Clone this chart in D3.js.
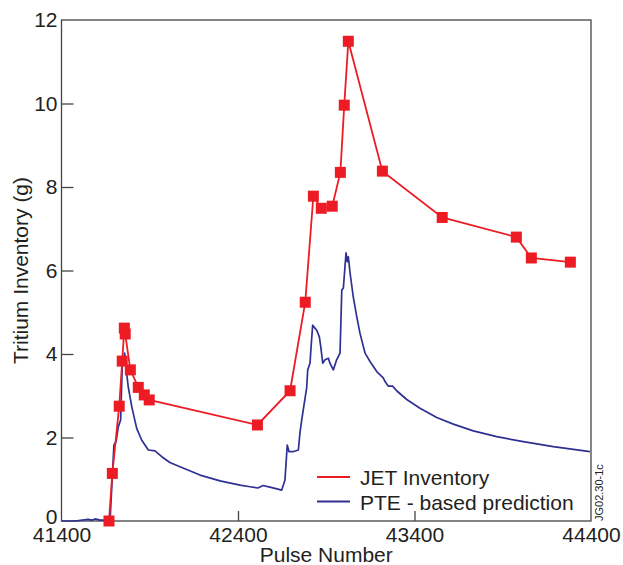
<!DOCTYPE html>
<html>
<head>
<meta charset="utf-8">
<script src="https://cdn.jsdelivr.net/npm/d3@7"></script>
<style>
  body { margin: 0; background: #fff; }
  svg text { font-family: "Liberation Sans", Arial, sans-serif; fill: #231f20; }
</style>
</head>
<body>
<script>
// JET measured tritium inventory (pulse number, grams)
const jetPulse = [41669, 41688, 41727, 41744, 41756, 41761, 41790, 41835, 41869, 41897,
    42510, 42695, 42781, 42827, 42872, 42934, 42980, 43002, 43025, 43218, 43557, 43977, 44062, 44283];
const jetInventory = [0.0, 1.14, 2.75, 3.83, 4.62, 4.48, 3.62, 3.20, 3.02, 2.90,
    2.30, 3.12, 5.24, 7.78, 7.49, 7.54, 8.35, 9.96, 11.49, 8.38, 7.27, 6.80, 6.30, 6.20];

// PTE based prediction
const ptePulse = [41403, 41476, 41550, 41573, 41590, 41618, 41652, 41675, 41690, 41697,
    41709, 41722, 41735, 41744, 41758, 41765, 41778, 41798, 41826, 41854,
    41892, 41930, 41968, 42014, 42071, 42185, 42298, 42411, 42468, 42513,
    42542, 42581, 42648, 42666, 42679, 42689, 42711, 42742, 42751, 42761,
    42789, 42795, 42808, 42814, 42823, 42836, 42846, 42861, 42869, 42880,
    42893, 42912, 42921, 42940, 42959, 42978, 42988, 42997, 43012, 43019,
    43025, 43035, 43053, 43073, 43091, 43120, 43148, 43186, 43223, 43233,
    43252, 43276, 43299, 43356, 43431, 43526, 43620, 43733, 43866, 44016,
    44186, 44394];
const pteInventory = [0.0, 0.0, 0.04, 0.02, 0.05, 0.02, 0.02, 0.02, 1.22, 1.82,
    1.90, 2.26, 2.42, 3.70, 4.02, 3.70, 3.22, 2.74, 2.22, 1.94,
    1.70, 1.68, 1.54, 1.40, 1.30, 1.10, 0.96, 0.86, 0.82, 0.79,
    0.85, 0.81, 0.74, 0.98, 1.82, 1.66, 1.66, 1.70, 2.11, 2.42,
    3.19, 3.62, 3.78, 4.17, 4.69, 4.62, 4.57, 4.41, 4.17, 3.78,
    3.86, 3.90, 3.78, 3.62, 3.86, 4.02, 5.53, 5.58, 6.42, 6.21,
    6.33, 5.94, 5.37, 4.89, 4.50, 4.02, 3.82, 3.58, 3.43, 3.34,
    3.23, 3.23, 3.12, 2.91, 2.70, 2.48, 2.32, 2.16, 2.02, 1.90,
    1.78, 1.66];

const xTicks = [41400, 42400, 43400, 44400];
const yTicks = [0, 2, 4, 6, 8, 10, 12];

const RED = "#ed1c24";
const BLUE = "#2e3192";
const AXIS = "#444";

const W = 623, H = 565;
const margin = { top: 20, right: 32, bottom: 44, left: 61.5 };

const svg = d3.select("body").append("svg")
    .attr("width", W)
    .attr("height", H);

let x = d3.scaleLinear().domain([41400, 44400]).range([margin.left, W - margin.right]);
let y = d3.scaleLinear().domain([0, 12]).range([H - margin.bottom, margin.top]);

// frame
svg.append("rect")
    .attr("x", x(41400))
    .attr("y", y(12))
    .attr("width", x(44400) - x(41400))
    .attr("height", y(0) - y(12))
    .attr("fill", "none")
    .attr("stroke", AXIS)
    .attr("stroke-width", 1.3);

// axes with inward ticks
let xAxis = d3.axisBottom(x).tickValues(xTicks).tickFormat(d3.format("d"))
    .tickSizeInner(-10).tickSizeOuter(0).tickPadding(6);
let yAxis = d3.axisLeft(y).tickValues(yTicks).tickFormat(d3.format("d"))
    .tickSizeInner(-12).tickSizeOuter(0).tickPadding(4);

let gx = svg.append("g")
    .attr("transform", "translate(0," + y(0) + ")")
    .call(xAxis);
let gy = svg.append("g")
    .attr("transform", "translate(" + x(41400) + ",0)")
    .call(yAxis);

[gx, gy].forEach(function (g) {
    g.select(".domain").remove();
    g.selectAll("line").attr("stroke", AXIS).attr("stroke-width", 1.3);
    g.selectAll("text")
        .attr("font-family", "Liberation Sans, Arial, sans-serif")
        .attr("font-size", 21)
        .attr("fill", "#231f20");
});
gx.selectAll(".tick text").attr("dy", "0.72em");
// the zero label sits a little above the corner
gy.selectAll(".tick text").filter(d => d == 0).attr("dy", "0.1em");
// ticks at 0 and 12 sit on the frame
gy.selectAll(".tick line").filter(d => d == 0 || d == 12).remove();
gx.selectAll(".tick line").filter(d => d == 41400 || d == 44400).remove();

// axis titles
svg.append("text")
    .attr("x", (x(41400) + x(44400)) / 2)
    .attr("y", 562)
    .attr("text-anchor", "middle")
    .attr("font-size", 21)
    .text("Pulse Number");
svg.append("text")
    .attr("transform", "translate(28," + (y(0) + y(12)) / 2 + ") rotate(-90)")
    .attr("text-anchor", "middle")
    .attr("font-size", 21)
    .text("Tritium Inventory (g)");

// PTE prediction
let pteLine = d3.line()
    .x((d, i) => x(ptePulse[i]))
    .y(d => y(d));
svg.append("path")
    .attr("d", pteLine(pteInventory))
    .attr("fill", "none")
    .attr("stroke", BLUE)
    .attr("stroke-width", 1.7)
    .attr("stroke-linejoin", "round");

// JET inventory
let jetLine = d3.line()
    .x((d, i) => x(jetPulse[i]))
    .y(d => y(d));
svg.append("path")
    .attr("d", jetLine(jetInventory))
    .attr("fill", "none")
    .attr("stroke", RED)
    .attr("stroke-width", 1.8);

const MS = 11;
svg.selectAll("rect.marker")
    .data(jetInventory)
    .enter().append("rect")
    .attr("class", "marker")
    .attr("x", (d, i) => x(jetPulse[i]) - MS / 2)
    .attr("y", d => y(d) - MS / 2)
    .attr("width", MS)
    .attr("height", MS)
    .attr("fill", RED);

// legend
const legend = [
    { name: "JET Inventory", color: RED },
    { name: "PTE - based prediction", color: BLUE }
];
let lg = svg.append("g").attr("transform", "translate(317,477)");
legend.forEach(function (item, i) {
    lg.append("line")
        .attr("x1", 0).attr("x2", 33)
        .attr("y1", i * 24.5).attr("y2", i * 24.5)
        .attr("stroke", item.color)
        .attr("stroke-width", 1.8);
    lg.append("text")
        .attr("x", 43)
        .attr("y", i * 24.5 + 8)
        .attr("font-size", 21)
        .text(item.name);
});

// figure code
svg.append("text")
    .attr("transform", "translate(603,521) rotate(-90)")
    .attr("font-size", 11)
    .text("JG02.30-1c");
</script>
</body>
</html>
